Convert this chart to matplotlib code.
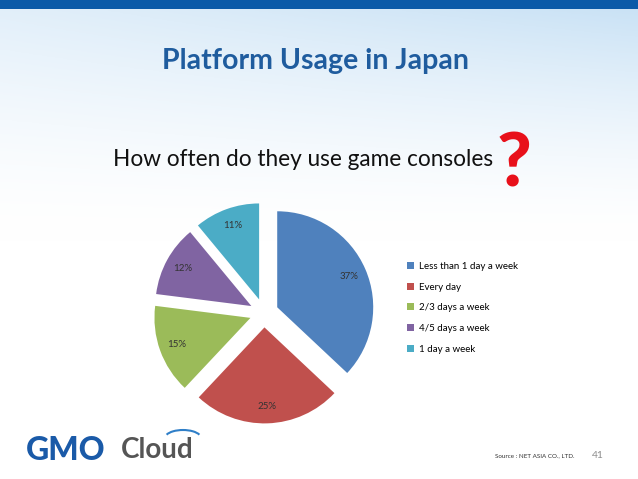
import numpy as np
import matplotlib
matplotlib.use('Agg')
import matplotlib.pyplot as plt
from matplotlib.patches import Arc, Rectangle

plt.rcParams['font.family'] = ['Lato', 'DejaVu Sans']

# data
labels = ['Less than 1 day a week', 'Every day', '2/3 days a week',
          '4/5 days a week', '1 day a week']
shares = [37, 25, 15, 12, 11]
colors = ['#4F81BD', '#C0504D', '#9BBB59', '#8064A2', '#4BACC6']

W, H = 638, 479
fig = plt.figure(figsize=(W / 100, H / 100), dpi=100)

# slide background: pale blue at the top fading to white
bg = fig.add_axes([0, 0, 1, 1], zorder=-10)
yy, xx = np.mgrid[0:1:200j, 0:1:200j]
fade = np.clip(1 - yy / 0.5, 0, 1) ** 1.5 * (0.55 + 0.45 * xx)
top = np.array([0.78, 0.88, 0.96])
img = 1 - fade[..., None] * (1 - top)
bg.imshow(img, extent=[0, 1, 0, 1], origin='upper', aspect='auto')
bg.add_patch(Rectangle((0, 1 - 9 / H), 1, 9 / H, color='#0B5AA8', lw=0))
bg.set_xlim(0, 1)
bg.set_ylim(0, 1)
bg.axis('off')

fig.text(316 / W, 1 - 61 / H, 'Platform Usage in Japan', ha='center', va='center',
         fontsize=20.5, fontweight='bold', color='#1F5C9E')
fig.text(113 / W, 1 - 160 / H, 'How often do they use game consoles', ha='left',
         va='center', fontsize=16.3, color='#111111')
fig.text(514 / W, 1 - 165 / H, '?', ha='center', va='center', fontsize=54,
         fontweight='black', color='#E8101A')

# pie
cx, cy, size = 264, 313, 240
ax = fig.add_axes([(cx - size / 2) / W, (H - cy - size / 2) / H, size / W, size / H])
wedges, _, autotexts = ax.pie(shares, colors=colors, startangle=90, counterclock=False,
                              explode=[0.15] * len(shares), autopct='%.0f%%',
                              pctdistance=0.82, textprops={'fontsize': 7, 'color': '#333333'})
ax.set_xlim(-1.25, 1.25)
ax.set_ylim(-1.25, 1.25)
ax.set_aspect('equal')

fig.legend(wedges, labels, loc='upper left', bbox_to_anchor=(402 / W, 1 - 257 / H),
           frameon=False, fontsize=7, handlelength=0.7, handleheight=0.7,
           handletextpad=0.5, labelspacing=1.2, borderpad=0)

# footer logo
fig.text(26 / W, 1 - 450 / H, 'GMO', ha='left', va='center', fontsize=23,
         fontweight='black', color='#1A5AA8')
fig.text(121 / W, 1 - 450 / H, 'Cloud', ha='left', va='center', fontsize=20,
         fontweight='bold', color='#555555')
bg.add_patch(Arc((183 / W, 1 - 438 / H), 36 / W, 16 / H, theta1=15, theta2=165,
                 color='#2F7FC8', lw=1.5))
fig.text(495 / W, 1 - 456 / H, 'Source : NET ASIA CO., LTD.', ha='left', va='center',
         fontsize=4.5, color='#333333')
fig.text(598 / W, 1 - 456 / H, '41', ha='center', va='center', fontsize=7.5,
         color='#8C8C8C')

fig.savefig('out.png', dpi=100)
